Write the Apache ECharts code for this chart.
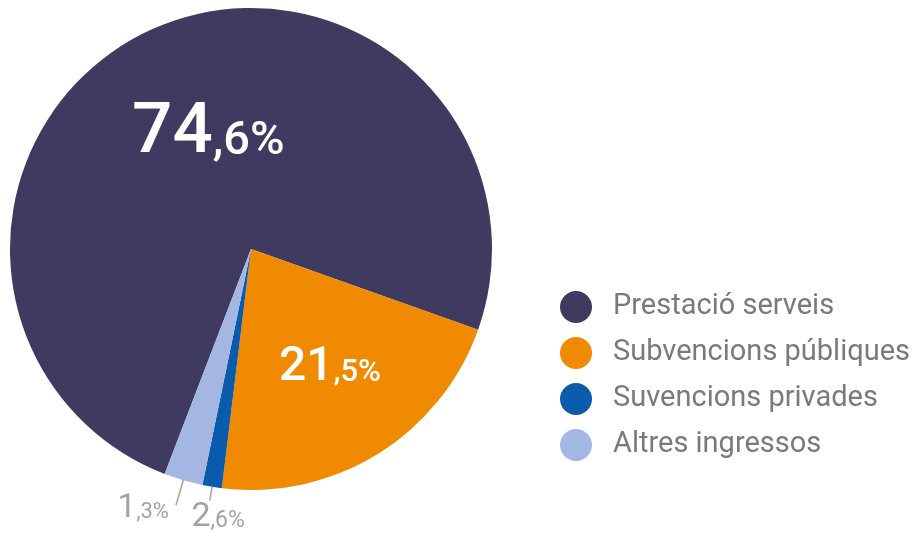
<!DOCTYPE html>
<html>
<head>
<meta charset="utf-8">
<script src="https://cdn.jsdelivr.net/npm/echarts@6/dist/echarts.min.js"></script>
<style>
html,body{margin:0;padding:0;background:#fff;}
#chart{width:916px;height:533px;}
</style>
</head>
<body>
<div id="chart"></div>
<script>
// Categories (legend order)
const categories = ['Prestació serveis', 'Subvencions públiques', 'Suvencions privades', 'Altres ingressos'];
// Slice sizes as drawn in the reference (%)
const values = [74.6, 21.5, 1.3, 2.6];
// Label texts exactly as printed in the reference
const sliceLabels = ['74,6%', '21,5%', '2,6%', '1,3%'];
const colors = ['#3f3a5f', '#f08a00', '#0a5bab', '#a4b7e2'];

const chart = echarts.init(document.getElementById('chart'));

function richFor(big, small, color, pad, weight) {
  return {
    big: { fontSize: big, lineHeight: big, color: color, fontFamily: 'Roboto', fontWeight: weight, verticalAlign: 'bottom' },
    small: { fontSize: small, lineHeight: big, color: color, fontFamily: 'Roboto', fontWeight: weight, verticalAlign: 'bottom', padding: [0, 0, pad, 0] }
  };
}
function fmt(p) {
  const s = sliceLabels[p.dataIndex];
  const i = s.indexOf(',');
  return '{big|' + s.slice(0, i) + '}{small|' + s.slice(i) + '}';
}

const labelCfg = [
  { position: 'inside', formatter: fmt, rich: richFor(71, 47, '#ffffff', 4, 500) },
  { position: 'inside', formatter: fmt, rich: richFor(48, 31, '#ffffff', 3, 500) },
  { position: 'outside', formatter: fmt, rich: richFor(34, 23, '#a3a3a3', 2, 400) },
  { position: 'outside', formatter: fmt, rich: richFor(33, 22, '#a3a3a3', 2, 400) }
];

const data = categories.map((c, i) => ({
  name: c,
  value: values[i],
  itemStyle: { color: colors[i] },
  label: labelCfg[i],
  labelLine: { show: i >= 2, length: i === 2 ? 14 : 26, length2: 0, lineStyle: { color: '#a3a3a3', width: 1.5 } }
}));

chart.setOption({
  animation: false,
  legend: {
    orient: 'vertical',
    left: 560,
    top: 291,
    padding: 0,
    icon: 'circle',
    itemWidth: 32,
    itemHeight: 32,
    itemGap: 14,
    textStyle: { fontSize: 29, color: '#7a7a7a', fontFamily: 'Roboto', padding: [0, 0, 0, 16] },
    data: categories
  },
  series: [{
    type: 'pie',
    center: [251, 249],
    radius: [0, 241],
    startAngle: 249,
    clockwise: true,
    avoidLabelOverlap: false,
    itemStyle: { borderWidth: 0 },
    emphasis: { disabled: true },
    labelLayout: function (p) {
      if (p.dataIndex === 1) return { dx: 14, dy: 14 };
      if (p.dataIndex === 0) return { dx: 9, dy: -3 };
      if (p.dataIndex === 3) return { dx: -2, dy: 4 };
      if (p.dataIndex === 2) return { dx: 40, dy: 17 };
    },
    data: data
  }]
});
</script>
</body>
</html>
